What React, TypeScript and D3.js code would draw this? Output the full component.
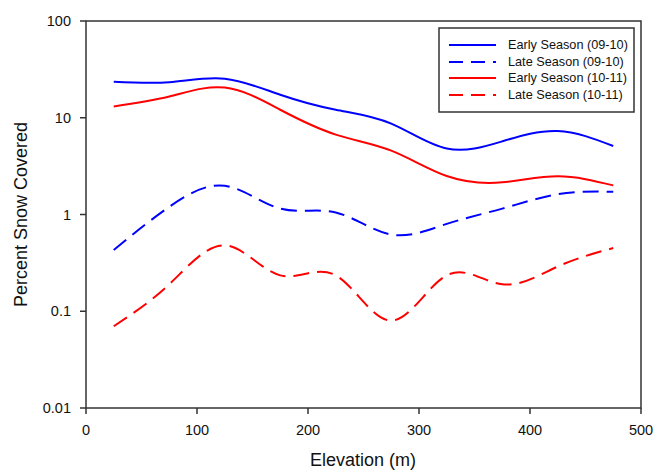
import React from "react";
import * as d3 from "d3";

const elevations = [25, 75, 125, 175, 225, 275, 325, 375, 425, 475];
const earlyA = [23.6, 23.3, 25.3, 17.3, 12.1, 8.7, 4.8, 5.7, 7.3, 5.1];
const lateA = [0.43, 1.2, 1.98, 1.15, 1.05, 0.62, 0.8, 1.15, 1.62, 1.72];
const earlyB = [13.1, 16.6, 20.5, 12.1, 6.7, 4.57, 2.5, 2.15, 2.48, 2.0];
const lateB = [0.07, 0.19, 0.48, 0.235, 0.235, 0.08, 0.235, 0.19, 0.29, 0.45];

const seriesNames = [
  "Early Season (09-10)",
  "Late Season (09-10)",
  "Early Season (10-11)",
  "Late Season (10-11)",
];
const seriesValues = [earlyA, lateA, earlyB, lateB];
const seriesColors = ["#0000ff", "#0000ff", "#ff0000", "#ff0000"];
const seriesDashed = [false, true, false, true];

const xTicks = [0, 100, 200, 300, 400, 500];
const yTicks = [0.01, 0.1, 1, 10, 100];
const yTickLabels = ["0.01", "0.1", "1", "10", "100"];

export default function App() {
  const W = 654, H = 470;
  const left = 86, right = 641, top = 21, bottom = 408;
  const x = d3.scaleLinear().domain([0, 500]).range([left, right]);
  const y = d3.scaleLog().domain([0.01, 100]).range([bottom, top]);
  const line = d3
    .line<[number, number]>()
    .x((d) => x(d[0]))
    .y((d) => y(d[1]))
    .curve(d3.curveNatural);
  const font = "Arial, 'Liberation Sans', sans-serif";
  const axisColor = "#333";
  const legX = 439, legY = 28, legW = 195, legH = 84;
  const rowYs = [45, 62, 78, 95];
  return (
    <svg width={W} height={H} style={{ position: "absolute", left: 0, top: 0, background: "#fff" }} fontFamily={font}>
      <rect x={0} y={0} width={W} height={H} fill="#fff" />
      {seriesValues.map((vals, i) => (
        <path
          key={i}
          d={line(elevations.map((e, j) => [e, vals[j]]) as [number, number][]) || ""}
          fill="none"
          stroke={seriesColors[i]}
          strokeWidth={2}
          strokeDasharray={seriesDashed[i] ? "16 8" : undefined}
        />
      ))}
      <rect x={left} y={top} width={right - left} height={bottom - top} fill="none" stroke={axisColor} strokeWidth={1.5} />
      {xTicks.map((t) => (
        <g key={t}>
          <line x1={x(t)} x2={x(t)} y1={bottom} y2={bottom + 6} stroke={axisColor} strokeWidth={1.5} />
          <text x={x(t)} y={435} textAnchor="middle" fontSize={14.5} fill="#111">{t}</text>
        </g>
      ))}
      {yTicks.map((t, i) => (
        <g key={t}>
          <line x1={left - 6} x2={left} y1={y(t)} y2={y(t)} stroke={axisColor} strokeWidth={1.5} />
          <text x={71} y={y(t)} dy="0.35em" textAnchor="end" fontSize={14.5} fill="#111">{yTickLabels[i]}</text>
        </g>
      ))}
      <text x={363} y={466} textAnchor="middle" fontSize={18} fill="#111">Elevation (m)</text>
      <text transform={`translate(27,${(top + bottom) / 2}) rotate(-90)`} textAnchor="middle" fontSize={18} fill="#111">Percent Snow Covered</text>
      <rect x={legX} y={legY} width={legW} height={legH} fill="#fff" stroke={axisColor} strokeWidth={1.5} />
      {seriesNames.map((n, i) => (
        <g key={n}>
          <line x1={449} x2={496} y1={rowYs[i]} y2={rowYs[i]} stroke={seriesColors[i]} strokeWidth={2} strokeDasharray={seriesDashed[i] ? "14 8" : undefined} />
          <text x={508} y={rowYs[i]} dy="0.35em" fontSize={12.7} fill="#111">{n}</text>
        </g>
      ))}
    </svg>
  );
}
